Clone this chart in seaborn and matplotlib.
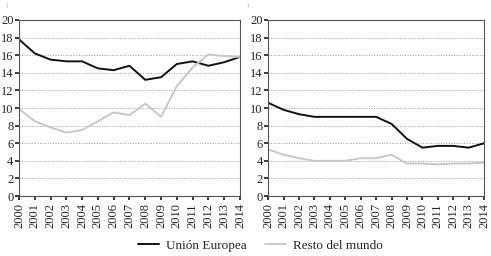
import matplotlib
matplotlib.use("Agg")
import matplotlib.pyplot as plt
import seaborn as sns
import pandas as pd

years = list(range(2000, 2015))

# panel a)
ue_a = [17.8, 16.2, 15.5, 15.3, 15.3, 14.5, 14.3, 14.8, 13.2, 13.5, 15.0, 15.3, 14.8, 15.2, 15.8]
resto_a = [9.9, 8.5, 7.8, 7.2, 7.5, 8.5, 9.5, 9.2, 10.5, 9.0, 12.5, 14.6, 16.1, 15.9, 15.8]

# panel b)
ue_b = [10.6, 9.8, 9.3, 9.0, 9.0, 9.0, 9.0, 9.0, 8.2, 6.5, 5.5, 5.7, 5.7, 5.5, 6.0]
resto_b = [5.3, 4.7, 4.3, 4.0, 4.0, 4.0, 4.3, 4.3, 4.7, 3.7, 3.7, 3.6, 3.7, 3.7, 3.8]

series = ["Unión Europea", "Resto del mundo"]
colors = {"Unión Europea": "#111111", "Resto del mundo": "#c8c8c8"}

sns.set_theme(style="white")
plt.rcParams['font.family'] = ['Liberation Serif', 'DejaVu Serif']

fig = plt.figure(figsize=(4.91, 2.56), dpi=100)
ax1 = fig.add_axes([0.0387, 0.234, 0.450, 0.688])
ax2 = fig.add_axes([0.546, 0.234, 0.440, 0.688])

for ax, ue, resto in [(ax1, ue_a, resto_a), (ax2, ue_b, resto_b)]:
    df = pd.DataFrame({"year": years * 2,
                       "value": ue + resto,
                       "serie": [series[0]] * len(years) + [series[1]] * len(years)})
    sns.lineplot(data=df, x="year", y="value", hue="serie", palette=colors,
                 ax=ax, linewidth=1.4, legend=False)
    ax.set_xlim(2000, 2014)
    ax.set_ylim(0, 20)
    ax.set_yticks(range(0, 21, 2))
    ax.set_xticks(years)
    ax.set_xticklabels([str(y) for y in years], rotation=90, fontsize=9)
    ax.tick_params(axis='y', labelsize=9, length=3, pad=1, direction='out', left=True)
    ax.tick_params(axis='x', length=3, pad=2, direction='out', bottom=True)
    ax.set_xlabel("")
    ax.set_ylabel("")
    ax.grid(axis='y', linestyle=':', color='#999999', linewidth=0.7)
    for s in ax.spines.values():
        s.set_color('#555555')
        s.set_linewidth(0.8)

# remnants of the panel letters at the top edge
fig.text(0.012, 0.99, ")", fontsize=5, color='#aaaaaa', va='top')
fig.text(0.503, 0.99, ")", fontsize=5, color='#aaaaaa', va='top')

handles = [plt.Line2D([], [], color=colors[s], linewidth=1.4) for s in series]
fig.legend(handles, series, loc='center', bbox_to_anchor=(0.53, 0.04), ncol=2,
           frameon=False, fontsize=9.5, handlelength=1.6, handletextpad=0.5,
           columnspacing=1.4)

fig.savefig("out.png", dpi=100)
